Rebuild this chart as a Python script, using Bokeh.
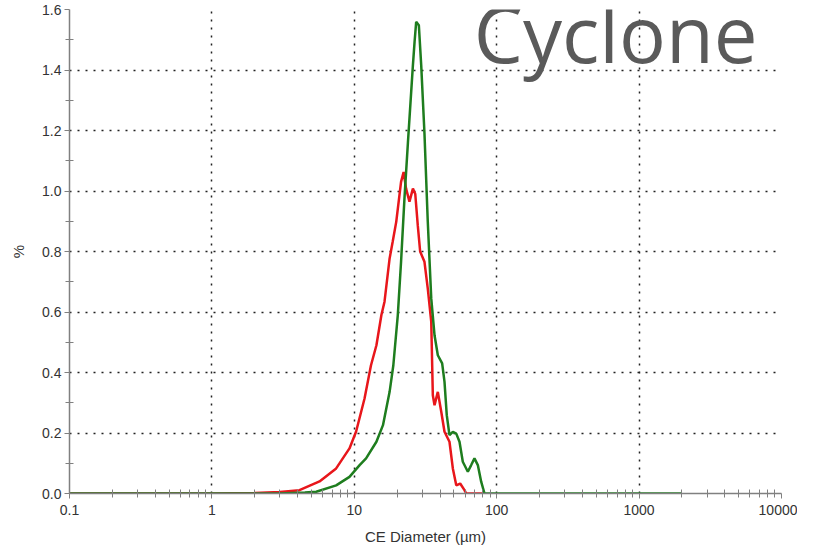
from bokeh.plotting import figure
from bokeh.models import FixedTicker, CustomJSTickFormatter, Label, Range1d
from bokeh.embed import file_html
from bokeh.resources import INLINE

# Red series (CE diameter in µm, %)
red_x = [0.1, 1.0, 2.0, 3.0, 4.12, 5.7, 7.46, 9.25, 10.3, 11.8, 13.1, 14.3, 15.5, 16.3,
         17.7, 18.6, 19.7, 21.3, 22.2, 23.1, 24.4, 25.8, 26.8, 27.9, 29.0, 31.1, 32.8,
         34.7, 35.6, 36.6, 38.6, 40.8, 43.0, 46.6, 49.2, 52.0, 55.4, 59.4, 61.1, 80.0]
red_y = [0.0, 0.0, 0.002, 0.005, 0.011, 0.04, 0.083, 0.149, 0.205, 0.314, 0.424, 0.49,
         0.59, 0.634, 0.777, 0.832, 0.898, 1.03, 1.063, 1.008, 0.965, 1.008, 0.99, 0.887,
         0.80, 0.766, 0.678, 0.568, 0.325, 0.292, 0.336, 0.27, 0.204, 0.171, 0.083, 0.027,
         0.033, 0.011, 0.0, 0.0]

# Green series
green_x = [0.1, 3.0, 4.5, 5.4, 7.46, 9.25, 10.9, 12.1, 14.3, 15.9, 17.7, 18.8, 20.2,
           21.3, 22.5, 23.8, 25.8, 26.5, 27.2, 28.4, 29.5, 31.1, 32.8, 34.7, 36.6, 38.6,
           41.4, 43.0, 44.6, 46.6, 49.2, 52.0, 54.8, 57.8, 62.7, 66.2, 69.8, 73.7, 77.8,
           82.1, 2000.0]
green_y = [0.0, 0.0, 0.003, 0.006, 0.027, 0.055, 0.094, 0.116, 0.171, 0.226, 0.336,
           0.424, 0.589, 0.766, 0.975, 1.16, 1.416, 1.493, 1.559, 1.548, 1.416, 1.19,
           0.90, 0.645, 0.523, 0.457, 0.43, 0.369, 0.259, 0.193, 0.204, 0.198, 0.171,
           0.105, 0.072, 0.094, 0.116, 0.094, 0.039, 0.0, 0.0]

x_ticks = [0.1, 1, 10, 100, 1000, 10000]
y_ticks = [0.0, 0.2, 0.4, 0.6, 0.8, 1.0, 1.2, 1.4, 1.6]
y_minor = [0.1, 0.3, 0.5, 0.7, 0.9, 1.1, 1.3, 1.5]
x_minor = [m * d for d in [0.1, 1, 10, 100, 1000] for m in range(2, 10)]

title_text = "Cyclone"
x_label = "CE Diameter (µm)"
y_label = "%"

p = figure(x_axis_type="log", output_backend="svg", toolbar_location=None,
           frame_width=712, frame_height=484,
           min_border_left=69, min_border_right=16, min_border_top=9, min_border_bottom=52,
           x_range=Range1d(0.1, 10000), y_range=Range1d(0, 1.6))
p.outline_line_color = None
p.background_fill_color = "white"

p.line(red_x, red_y, line_color="#e8161b", line_width=2.5)
p.line(green_x, green_y, line_color="#1e7d1e", line_width=2.5)

p.xaxis.ticker = FixedTicker(ticks=x_ticks, minor_ticks=x_minor)
p.xaxis.formatter = CustomJSTickFormatter(code="return String(tick);")
p.yaxis.ticker = FixedTicker(ticks=y_ticks, minor_ticks=y_minor)
p.yaxis.formatter = CustomJSTickFormatter(code="return tick.toFixed(1);")

for ax in (p.xaxis, p.yaxis):
    ax.axis_line_color = "#808080"
    ax.axis_line_width = 1.5
    ax.major_tick_line_color = "#808080"
    ax.minor_tick_line_color = "#808080"
    ax.major_tick_in = 0
    ax.major_tick_out = 5
    ax.minor_tick_in = 4
    ax.minor_tick_out = 4
    ax.major_label_text_font = "Liberation Sans"
    ax.major_label_text_font_size = "14px"
    ax.major_label_text_color = "#333333"
    ax.axis_label_text_font = "Liberation Sans"
    ax.axis_label_text_font_size = "15px"
    ax.axis_label_text_font_style = "normal"
    ax.axis_label_text_color = "#333333"
p.xaxis.axis_label = x_label
p.yaxis.axis_label = y_label
p.xaxis.axis_label_standoff = 10
p.yaxis.axis_label_standoff = 12
p.yaxis.major_label_standoff = 3
p.xaxis.major_label_standoff = 6

for g in (p.xgrid, p.ygrid):
    g.grid_line_color = "#222222"
    g.grid_line_dash = "2 6"
    g.grid_line_width = 1.5
p.xgrid.ticker = FixedTicker(ticks=x_ticks)
p.ygrid.ticker = FixedTicker(ticks=y_ticks)

p.add_layout(Label(x=69.0, y=1.522, text=title_text, text_font="Open Sans",
                   text_font_size="78px", text_color="#5a5a5a",
                   text_baseline="alphabetic"))

open("out.html", "w").write(file_html(p, INLINE))
